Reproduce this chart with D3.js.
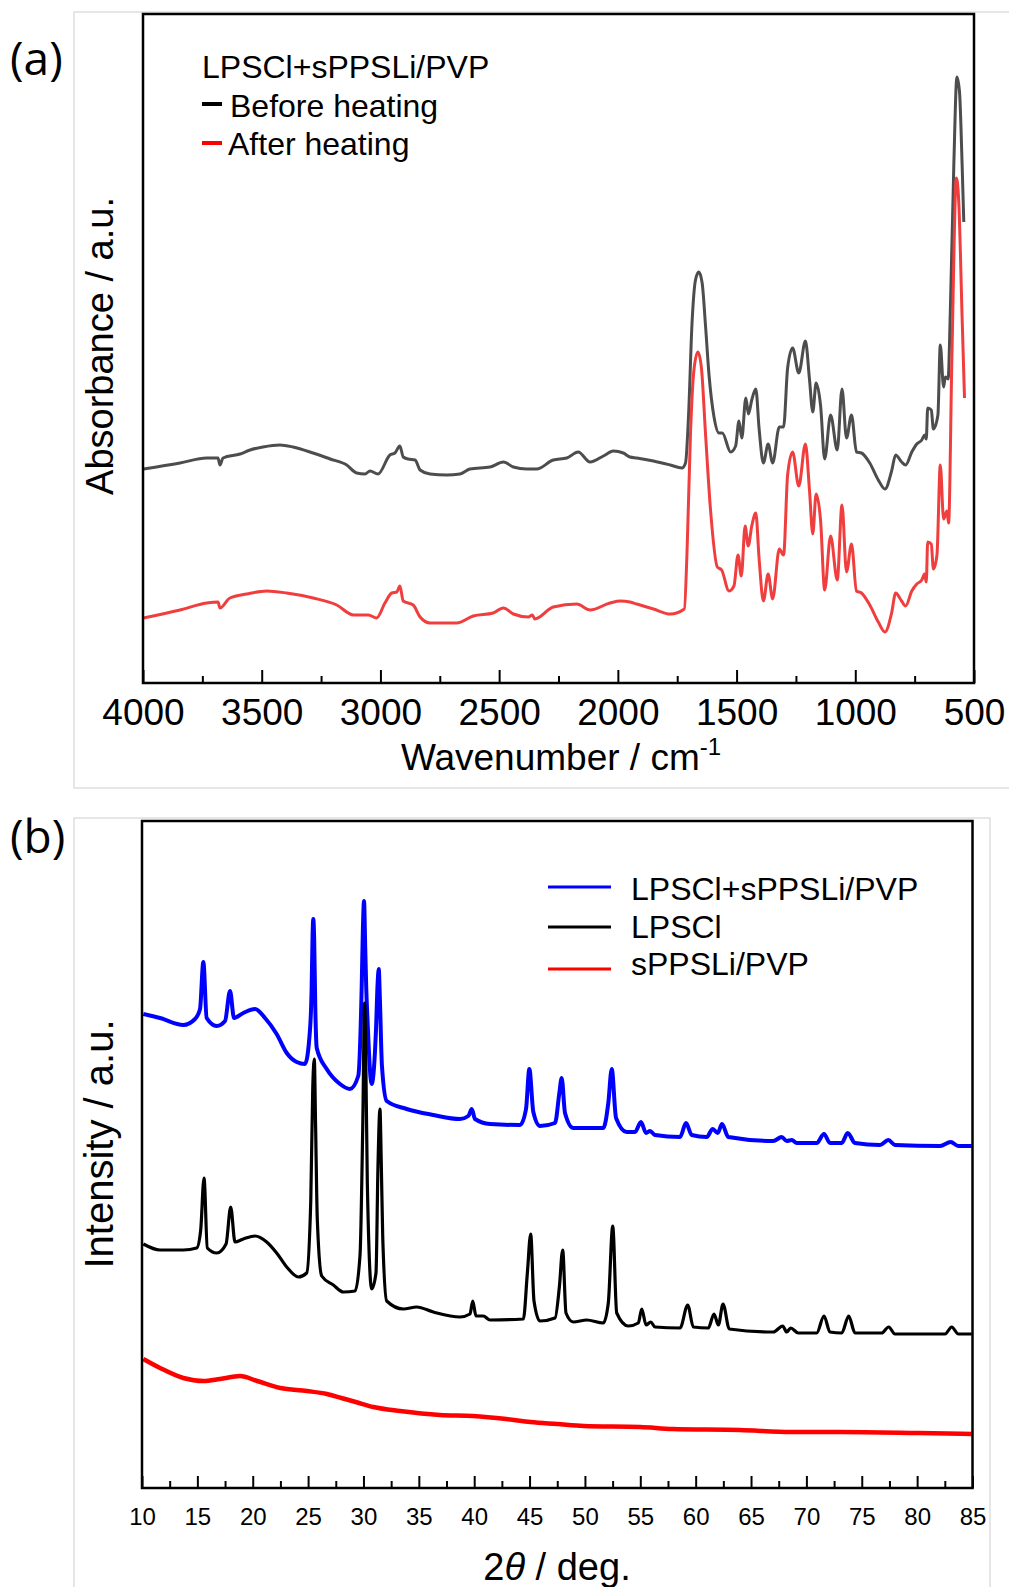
<!DOCTYPE html>
<html>
<head>
<meta charset="utf-8">
<title>FTIR / XRD</title>
<style>
  body { margin: 0; background: #fff; }
  svg { display: block; font-family: "Liberation Sans", Arial, sans-serif; }
</style>
</head>
<body>
<svg id="chart" width="1009" height="1587"></svg>
<script src="https://cdn.jsdelivr.net/npm/d3@7"></script>
<script>
// ---- (a) FTIR, [wavenumber cm-1, absorbance a.u.]
const beforeHeating = [[3998,214],[3844,220],[3732,225],[3684,225],[3676,218],[3663,225],[3591,229],[3549,233],[3495,236],[3423,238],[3368,236],[3284,230],[3212,224],[3142,218],[3100,210],[3065,209],[3044,212],[3010,209],[2960,228],[2939,230],[2918,237],[2904,226],[2884,224],[2854,223],[2833,213],[2791,209],[2721,208],[2665,209],[2623,214],[2538,216],[2482,221],[2440,216],[2384,214],[2342,214],[2272,223],[2215,225],[2167,231],[2117,221],[2061,227],[2019,232],[1977,230],[1949,226],[1920,225],[1850,222],[1779,218],[1730,215],[1715,220],[1702,269],[1688,358],[1673,403],[1659,411],[1645,400],[1631,358],[1616,308],[1595,266],[1574,250],[1560,250],[1525,231],[1504,237],[1490,262],[1478,245],[1461,285],[1450,269],[1436,283],[1419,294],[1405,254],[1387,220],[1367,239],[1348,220],[1320,256],[1302,256],[1285,315],[1264,335],[1238,310],[1210,342],[1193,304],[1179,271],[1165,300],[1146,277],[1129,224],[1104,268],[1076,233],[1056,294],[1037,245],[1016,268],[995,231],[974,230],[939,220],[903,203],[875,194],[847,212],[830,228],[805,221],[788,218],[762,231],[741,239],[720,243],[708,248],[701,244],[695,275],[680,273],[671,254],[652,268],[642,338],[628,296],[621,306],[609,304],[600,369],[585,518],[572,606],[561,591],[550,518],[543,461]];
const afterHeating = [[3998,65],[3844,73],[3732,80],[3684,81],[3676,75],[3634,85],[3563,89],[3479,92],[3395,90],[3283,85],[3184,78],[3114,68],[3051,68],[3016,65],[2981,80],[2952,90],[2931,91],[2918,97],[2904,82],[2862,78],[2833,66],[2791,60],[2679,60],[2609,67],[2525,70],[2482,75],[2440,69],[2377,66],[2360,68],[2350,64],[2272,76],[2173,79],[2117,73],[2033,80],[1990,82],[1949,81],[1920,79],[1850,74],[1779,69],[1720,74],[1708,136],[1694,250],[1680,312],[1663,331],[1648,315],[1631,250],[1610,174],[1581,116],[1563,113],[1532,92],[1511,97],[1494,128],[1480,107],[1464,157],[1451,137],[1436,157],[1419,170],[1405,124],[1387,82],[1367,109],[1348,84],[1320,134],[1302,128],[1285,208],[1264,231],[1238,197],[1210,239],[1193,193],[1179,149],[1165,189],[1146,162],[1129,93],[1104,147],[1076,103],[1056,178],[1037,111],[1016,139],[995,92],[974,90],[939,78],[903,61],[875,51],[847,70],[830,90],[805,82],[788,77],[762,92],[741,99],[720,103],[708,109],[701,101],[695,141],[680,139],[671,114],[656,128],[642,218],[628,164],[614,172],[607,160],[593,327],[574,505],[564,480],[550,365],[540,285]];
const ftirMajor = [4000, 3500, 3000, 2500, 2000, 1500, 1000, 500];
const ftirMinor = [3750, 3250, 2750, 2250, 1750, 1250, 750];

// ---- (b) XRD, [2theta deg, intensity a.u.]
const xrdComposite = [[10.12,474],[11.63,470],[13.73,463],[14.79,469],[15.24,479],[15.54,526],[15.84,470],[16.75,462],[17.50,467],[17.95,497],[18.31,470],[19.15,475],[20.21,479],[21.11,470],[22.16,454],[23.07,435],[23.97,426],[24.72,424],[25.17,458],[25.32,500],[25.40,550],[25.47,569],[25.55,548],[25.65,480],[25.78,440],[26.68,419],[27.88,404],[28.78,399],[29.53,412],[29.84,501],[29.95,560],[30.05,587],[30.16,540],[30.25,500],[30.35,472],[30.74,404],[31.13,458],[31.28,505],[31.38,519],[31.48,490],[31.67,422],[32.10,387],[33.90,379],[36.31,373],[38.72,369],[39.47,372],[39.78,379],[40.07,369],[41.43,364],[44.14,363],[44.68,379],[44.98,419],[45.34,376],[45.94,362],[47.30,365],[47.69,395],[47.90,410],[48.20,375],[48.95,360],[51.66,360],[52.11,385],[52.42,419],[52.81,370],[53.77,356],[54.52,356],[55.06,366],[55.52,355],[55.88,357],[56.33,353],[58.59,351],[59.13,365],[59.64,353],[61.00,351],[61.54,359],[61.99,355],[62.38,364],[62.95,351],[67.01,347],[67.77,351],[68.22,347],[68.68,348],[69.13,345],[70.93,345],[71.59,354],[72.13,345],[73.19,345],[73.73,355],[74.39,345],[76.65,343],[77.40,348],[78.00,343],[82.07,342],[83.03,346],[83.72,342],[84.93,342]];
const xrdLPSCl = [[10.12,244],[11.63,238],[13.73,238],[14.94,240],[15.30,258],[15.60,310],[15.90,240],[16.75,235],[17.59,244],[18.01,281],[18.40,246],[19.15,249],[20.21,252],[21.26,246],[22.16,235],[23.07,221],[24.12,211],[24.87,215],[25.24,287],[25.42,400],[25.56,429],[25.68,360],[25.83,269],[26.23,212],[27.28,203],[28.18,196],[29.24,197],[29.69,233],[29.93,358],[30.11,485],[30.22,420],[30.35,304],[30.74,199],[31.13,215],[31.31,322],[31.49,379],[31.60,330],[31.74,251],[32.10,187],[33.60,179],[34.81,181],[36.31,176],[38.72,171],[39.62,174],[39.87,187],[40.16,172],[40.82,172],[41.43,168],[44.44,169],[44.80,215],[45.10,254],[45.40,187],[45.94,167],[47.30,170],[47.69,201],[47.99,238],[48.29,175],[48.95,166],[50.16,168],[51.66,165],[52.11,185],[52.51,262],[52.87,175],[53.92,162],[54.82,165],[55.13,179],[55.52,163],[55.94,166],[56.33,161],[58.59,160],[59.28,183],[59.79,161],[61.14,160],[61.66,174],[62.05,163],[62.47,184],[63.04,159],[67.01,156],[67.86,162],[68.22,156],[68.58,160],[69.27,155],[70.93,155],[71.59,172],[72.13,156],[73.19,155],[73.82,172],[74.39,155],[76.80,155],[77.43,161],[78.00,154],[82.52,154],[83.12,161],[83.72,154],[84.93,154]];
const xrdPolymer = [[10.12,129],[11.63,120],[13.73,110],[15.54,107],[17.04,109],[18.85,112],[20.4,107],[22.5,100],[24.9,97],[26.7,94],[28.0,90],[29.3,86],[30.9,81],[33.3,77],[36.9,73],[39.9,72],[42.9,69],[45.1,66],[47.5,64],[49.9,62],[55.0,61],[57.9,59],[64.0,58],[68.6,56],[73.0,56],[80.0,55],[84.93,54]];
const xrdMajor = d3.range(10, 86, 5);
const xrdMinor = d3.range(12.5, 85, 5);

const svg = d3.select("#chart");

// faint outlines of the two pasted figures
svg.append("g")
    .attr("fill", "none")
    .attr("stroke", "#dedede")
    .attr("stroke-width", 1.5)
    .selectAll("path")
    .data(["M1009,12H74V788H1009", "M74,1587V818H990V1587"])
    .join("path")
    .attr("d", d => d);

function frameAndAxis(g, x, w, h, major, minor, bigTick, padding, fontSize) {
    g.append("g")
        .attr("transform", `translate(0,${h})`)
        .call(d3.axisBottom(x).tickValues(minor).tickSize(-7).tickFormat(""))
        .call(a => a.select(".domain").remove())
        .selectAll("line").attr("stroke-width", 2);

    const ax = g.append("g")
        .attr("transform", `translate(0,${h})`)
        .call(d3.axisBottom(x).tickValues(major).tickSize(-bigTick).tickPadding(padding).tickFormat(d3.format("d")))
        .attr("font-family", null)
        .attr("font-size", fontSize);
    ax.select(".domain").remove();
    ax.selectAll("line").attr("stroke-width", 2);
    ax.selectAll("text").attr("fill", "#000");

    g.append("rect")
        .attr("width", w)
        .attr("height", h)
        .attr("fill", "none")
        .attr("stroke", "#000")
        .attr("stroke-width", 2.5);
}

// ================= (a) =================
const wA = 831, hA = 669;
const gA = svg.append("g").attr("transform", "translate(143,14)");
const xA = d3.scaleLinear().domain([4000, 500]).range([0, wA]);
const yA = d3.scaleLinear().domain([0, 669]).range([hA, 0]);

const lineA = d3.line()
    .x(d => xA(d[0]))
    .y(d => yA(d[1]))
    .curve(d3.curveMonotoneX);

gA.append("path").datum(beforeHeating)
    .attr("fill", "none").attr("stroke", "#4d4d4d").attr("stroke-width", 3)
    .attr("stroke-linejoin", "round").attr("d", lineA);
gA.append("path").datum(afterHeating)
    .attr("fill", "none").attr("stroke", "#f03e3e").attr("stroke-width", 3)
    .attr("stroke-linejoin", "round").attr("d", lineA);

frameAndAxis(gA, xA, wA, hA, ftirMajor, ftirMinor, 13, 16, 37);

// legend
const legA = svg.append("g").attr("font-size", 32);
legA.append("text").attr("x", 202).attr("y", 78).text("LPSCl+sPPSLi/PVP");
legA.selectAll("line")
    .data([["#000", 104], ["#ff0000", 143]])
    .join("line")
    .attr("x1", 202).attr("x2", 222)
    .attr("y1", d => d[1]).attr("y2", d => d[1])
    .attr("stroke", d => d[0]).attr("stroke-width", 4);
legA.append("text").attr("x", 230).attr("y", 117).text("Before heating");
legA.append("text").attr("x", 228).attr("y", 155).text("After heating");

// axis titles
svg.append("text")
    .attr("transform", "translate(113,346) rotate(-90)")
    .attr("text-anchor", "middle")
    .attr("font-size", 38)
    .text("Absorbance / a.u.");

const xt = svg.append("text")
    .attr("x", 561).attr("y", 770)
    .attr("text-anchor", "middle")
    .attr("font-size", 37);
xt.append("tspan").text("Wavenumber / cm");
xt.append("tspan").attr("dy", -15).attr("font-size", 24).text("-1");

// ================= (b) =================
const wB = 830.5, hB = 667;
const gB = svg.append("g").attr("transform", "translate(142,821)");
const xB = d3.scaleLinear().domain([10, 85]).range([0, wB]);
const yB = d3.scaleLinear().domain([0, 667]).range([hB, 0]);

const lineB = d3.line()
    .x(d => xB(d[0]))
    .y(d => yB(d[1]))
    .curve(d3.curveMonotoneX);

const xrdSeries = [
    {name: "LPSCl+sPPSLi/PVP", data: xrdComposite, color: "#0000ff", width: 4},
    {name: "LPSCl", data: xrdLPSCl, color: "#000000", width: 3.2},
    {name: "sPPSLi/PVP", data: xrdPolymer, color: "#ff0000", width: 4.5}
];

gB.selectAll("path.xrd")
    .data(xrdSeries)
    .join("path")
    .attr("class", "xrd")
    .attr("fill", "none")
    .attr("stroke", d => d.color)
    .attr("stroke-width", d => d.width)
    .attr("stroke-linejoin", "round")
    .attr("d", d => lineB(d.data));

frameAndAxis(gB, xB, wB, hB, xrdMajor, xrdMinor, 12, 20, 24);

const legB = svg.append("g").attr("font-size", 32);
const legRows = [887, 927, 969];
const legBase = [900, 938, 975];
legB.selectAll("line")
    .data(xrdSeries)
    .join("line")
    .attr("x1", 548).attr("x2", 611)
    .attr("y1", (d, i) => legRows[i]).attr("y2", (d, i) => legRows[i])
    .attr("stroke", d => d.color).attr("stroke-width", 3);
legB.selectAll("text")
    .data(xrdSeries)
    .join("text")
    .attr("x", 631)
    .attr("y", (d, i) => legBase[i])
    .text(d => d.name);

svg.append("text")
    .attr("transform", "translate(113,1144) rotate(-90)")
    .attr("text-anchor", "middle")
    .attr("font-size", 40)
    .text("Intensity / a.u.");

const xtB = svg.append("text")
    .attr("x", 557).attr("y", 1580)
    .attr("text-anchor", "middle")
    .attr("font-size", 38);
xtB.append("tspan").text("2");
xtB.append("tspan").attr("font-style", "italic").text("θ");
xtB.append("tspan").text(" / deg.");

// panel letters
svg.selectAll("text.panel")
    .data([["(a)", 75], ["(b)", 853]])
    .join("text")
    .attr("class", "panel")
    .attr("x", 10)
    .attr("y", d => d[1])
    .attr("font-family", "'Open Sans', sans-serif")
    .attr("font-size", 46)
    .text(d => d[0]);
</script>
</body>
</html>
